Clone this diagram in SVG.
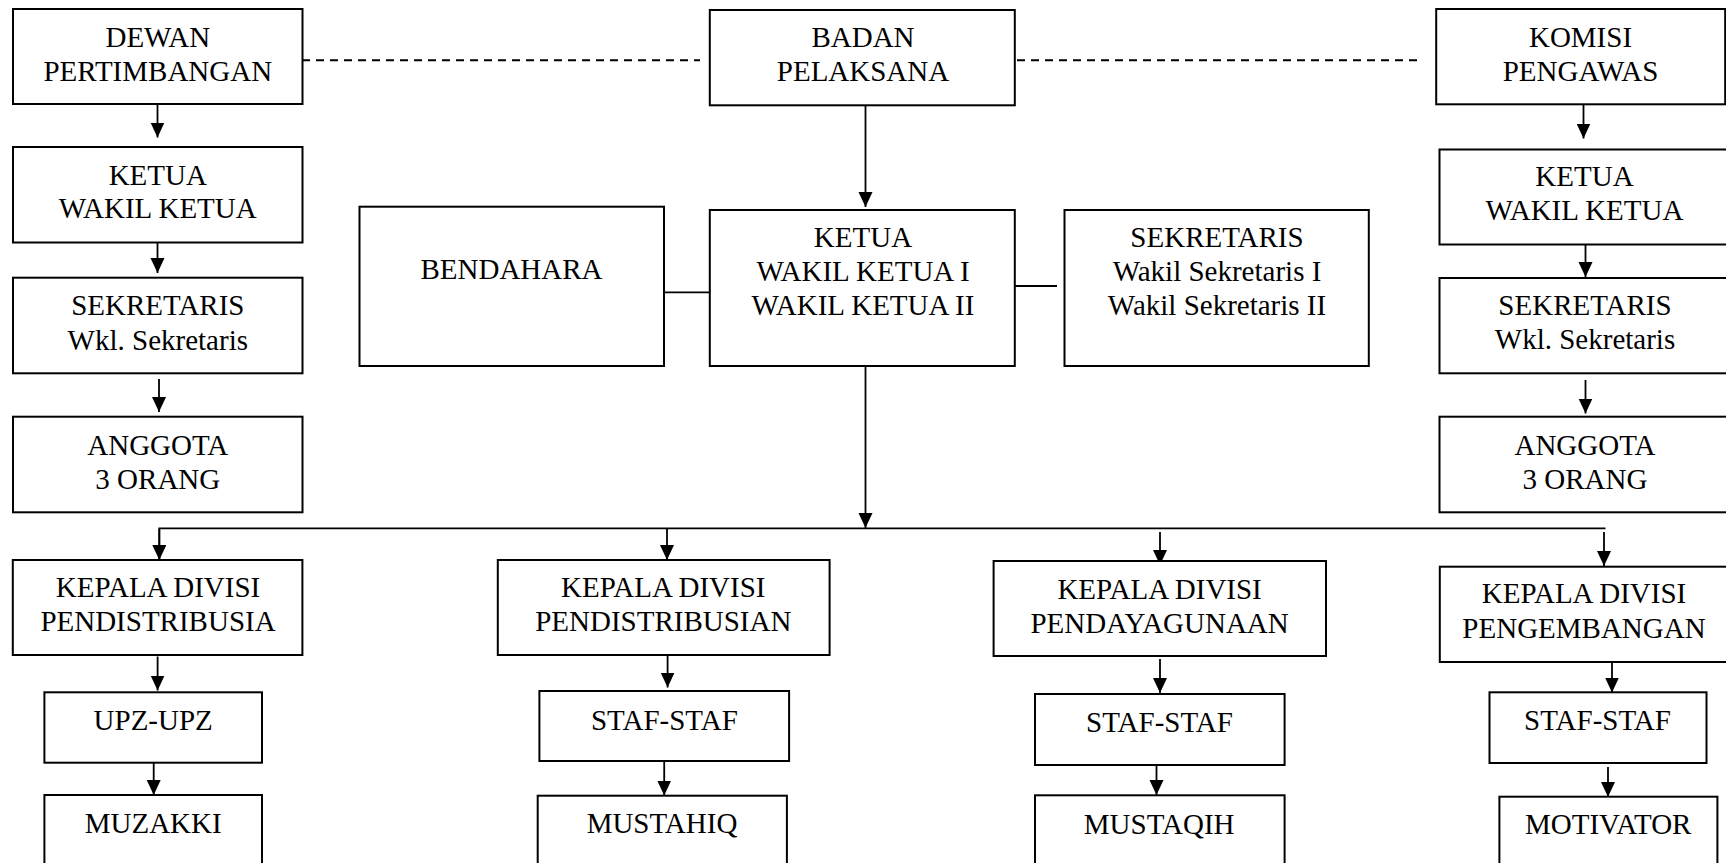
<svg xmlns="http://www.w3.org/2000/svg" width="1726" height="863" viewBox="0 0 1726 863">
<style>
.box{fill:#fff;stroke:#000;stroke-width:2}
.t{font-family:"Liberation Serif","Times New Roman",serif;font-size:29px;fill:#000;text-anchor:middle}
.c{stroke:#000;stroke-width:1.8;fill:none}
.d{stroke:#000;stroke-width:2;fill:none;stroke-dasharray:8 6}
</style>
<defs>
<marker id="ah" markerUnits="userSpaceOnUse" markerWidth="16" markerHeight="16" refX="15" refY="7" orient="auto">
<path d="M0,0 L15,7 L0,14 z" fill="#000"/>
</marker>
</defs>
<rect width="1726" height="863" fill="#fff"/>
<g id="connectors">
<line class="d" x1="302" y1="60.3" x2="700" y2="60.3"/>
<line class="d" x1="1017" y1="60.3" x2="1418" y2="60.3"/>
<line class="c" x1="665" y1="292.3" x2="710" y2="292.3"/>
<line class="c" x1="1015" y1="286" x2="1057" y2="286"/>
<line class="c" x1="157.5" y1="104" x2="157.5" y2="137.5" marker-end="url(#ah)"/>
<line class="c" x1="157.5" y1="241" x2="157.5" y2="273" marker-end="url(#ah)"/>
<line class="c" x1="159" y1="379" x2="159" y2="412" marker-end="url(#ah)"/>
<line class="c" x1="865.5" y1="105" x2="865.5" y2="207" marker-end="url(#ah)"/>
<line class="c" x1="865.5" y1="366" x2="865.5" y2="528" marker-end="url(#ah)"/>
<polyline class="c" points="159.3,560 159.3,528.3 1605.5,528.3"/>
<line class="c" x1="159.3" y1="529" x2="159.3" y2="560" marker-end="url(#ah)"/>
<line class="c" x1="667" y1="528" x2="667" y2="560" marker-end="url(#ah)"/>
<line class="c" x1="1160" y1="532" x2="1160" y2="565" marker-end="url(#ah)"/>
<line class="c" x1="1604" y1="532" x2="1604" y2="566" marker-end="url(#ah)"/>
<line class="c" x1="157.6" y1="656.5" x2="157.6" y2="690.5" marker-end="url(#ah)"/>
<line class="c" x1="153.7" y1="762.7" x2="153.7" y2="795" marker-end="url(#ah)"/>
<line class="c" x1="667.6" y1="655" x2="667.6" y2="687.5" marker-end="url(#ah)"/>
<line class="c" x1="664.2" y1="761" x2="664.2" y2="795.5" marker-end="url(#ah)"/>
<line class="c" x1="1160" y1="659" x2="1160" y2="693" marker-end="url(#ah)"/>
<line class="c" x1="1156.5" y1="765" x2="1156.5" y2="795" marker-end="url(#ah)"/>
<line class="c" x1="1612" y1="662" x2="1612" y2="692.5" marker-end="url(#ah)"/>
<line class="c" x1="1608" y1="767" x2="1608" y2="797" marker-end="url(#ah)"/>
<line class="c" x1="1583.5" y1="104" x2="1583.5" y2="138.5" marker-end="url(#ah)"/>
<line class="c" x1="1585.5" y1="245" x2="1585.5" y2="277" marker-end="url(#ah)"/>
<line class="c" x1="1585.5" y1="380" x2="1585.5" y2="413.5" marker-end="url(#ah)"/>
</g>
<g id="dewan"><rect class="box" x="13" y="9" width="289.5" height="95"/><text class="t" x="157.8" y="46.7">DEWAN</text><text class="t" x="157.8" y="81">PERTIMBANGAN</text></g>
<g id="ketua_l"><rect class="box" x="13" y="147" width="289.5" height="95.5"/><text class="t" x="157.8" y="185">KETUA</text><text class="t" x="157.8" y="218.3">WAKIL KETUA</text></g>
<g id="sek_l"><rect class="box" x="13" y="277.7" width="289.5" height="95.6"/><text class="t" x="157.8" y="315">SEKRETARIS</text><text class="t" x="157.8" y="350">Wkl. Sekretaris</text></g>
<g id="anggota_l"><rect class="box" x="13" y="416.7" width="289.5" height="95.6"/><text class="t" x="157.8" y="455">ANGGOTA</text><text class="t" x="157.8" y="489.3">3 ORANG</text></g>
<g id="bendahara"><rect class="box" x="359.5" y="206.7" width="304.5" height="159.3"/><text class="t" x="511.5" y="279">BENDAHARA</text></g>
<g id="badan"><rect class="box" x="709.8" y="10" width="305" height="95.3"/><text class="t" x="863" y="46.7">BADAN</text><text class="t" x="863" y="81">PELAKSANA</text></g>
<g id="ketua_c"><rect class="box" x="709.8" y="210" width="305" height="156"/><text class="t" x="863" y="247.3">KETUA</text><text class="t" x="863" y="280.7">WAKIL KETUA I</text><text class="t" x="863" y="315">WAKIL KETUA II</text></g>
<g id="sekretaris_c"><rect class="box" x="1064.5" y="210" width="304.3" height="156"/><text class="t" x="1217" y="247.3">SEKRETARIS</text><text class="t" x="1217" y="280.7">Wakil Sekretaris I</text><text class="t" x="1217" y="315">Wakil Sekretaris II</text></g>
<g id="komisi"><rect class="box" x="1436.2" y="9" width="289" height="95.3"/><text class="t" x="1580.5" y="46.7">KOMISI</text><text class="t" x="1580.5" y="81">PENGAWAS</text></g>
<g id="ketua_r"><rect class="box" x="1439.5" y="149.5" width="292" height="95"/><text class="t" x="1584.5" y="185.7">KETUA</text><text class="t" x="1584.5" y="220">WAKIL KETUA</text></g>
<g id="sek_r"><rect class="box" x="1439.5" y="278" width="292" height="95.3"/><text class="t" x="1585" y="315">SEKRETARIS</text><text class="t" x="1585" y="349.3">Wkl. Sekretaris</text></g>
<g id="anggota_r"><rect class="box" x="1439.5" y="416.7" width="292" height="95.6"/><text class="t" x="1585" y="455">ANGGOTA</text><text class="t" x="1585" y="489.3">3 ORANG</text></g>
<g id="kepala1"><rect class="box" x="12.8" y="560" width="289.6" height="95"/><text class="t" x="158" y="596.7">KEPALA DIVISI</text><text class="t" x="158" y="631">PENDISTRIBUSIA</text></g>
<g id="upz"><rect class="box" x="44.4" y="692.3" width="217.6" height="70.4"/><text class="t" x="153.2" y="730">UPZ-UPZ</text></g>
<g id="muzakki"><rect class="box" x="44.4" y="795" width="217.6" height="80"/><text class="t" x="153.2" y="833.3">MUZAKKI</text></g>
<g id="kepala2"><rect class="box" x="497.8" y="560" width="331.8" height="95"/><text class="t" x="663.3" y="596.7">KEPALA DIVISI</text><text class="t" x="663.3" y="631">PENDISTRIBUSIAN</text></g>
<g id="staf2"><rect class="box" x="539.4" y="691" width="249.7" height="70"/><text class="t" x="664.4" y="730">STAF-STAF</text></g>
<g id="mustahiq"><rect class="box" x="537.7" y="795.7" width="249.2" height="80"/><text class="t" x="662" y="833">MUSTAHIQ</text></g>
<g id="kepala3"><rect class="box" x="993.6" y="561" width="332.4" height="95"/><text class="t" x="1159.6" y="599.3">KEPALA DIVISI</text><text class="t" x="1159.6" y="632.7">PENDAYAGUNAAN</text></g>
<g id="staf3"><rect class="box" x="1035" y="694" width="249.6" height="71"/><text class="t" x="1159.5" y="732.3">STAF-STAF</text></g>
<g id="mustaqih"><rect class="box" x="1035" y="795.3" width="249.6" height="80"/><text class="t" x="1159.2" y="834">MUSTAQIH</text></g>
<g id="kepala4"><rect class="box" x="1439.8" y="566.7" width="292" height="95.3"/><text class="t" x="1584" y="603.3">KEPALA DIVISI</text><text class="t" x="1584" y="638.3">PENGEMBANGAN</text></g>
<g id="staf4"><rect class="box" x="1489.5" y="692.3" width="217" height="70.7"/><text class="t" x="1597.5" y="730">STAF-STAF</text></g>
<g id="motivator"><rect class="box" x="1499.4" y="796.7" width="218" height="80"/><text class="t" x="1608.2" y="834.3">MOTIVATOR</text></g>
</svg>
